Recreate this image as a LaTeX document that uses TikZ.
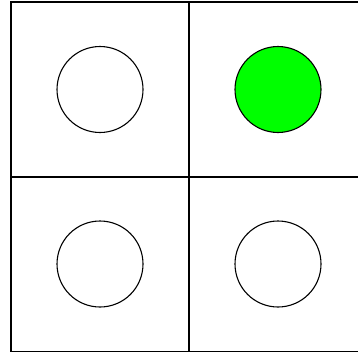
\documentclass[tikz,border=0pt]{standalone}
\usepackage{xcolor}
\usepackage{tikz}
\usetikzlibrary{positioning}
\definecolor{LampGreen}{HTML}{00FF00}

\begin{document}
\begin{tikzpicture}[
  x=1pt, y=-1pt,
  cell/.style={draw=black, line width=1.4pt, minimum width=178pt, minimum height=175pt, inner sep=0pt},
  lamp/.style={circle, draw=black, line width=1.1pt, minimum size=86pt, inner sep=0pt, fill=white},
  lampon/.style={lamp, fill=LampGreen}
]
\clip (0,0) rectangle (358,356);
\fill[white] (0,0) rectangle (358,356);
\node[cell] (topleft) at (100,89.5) {};
\node[cell] (topright) at (278,89.5) {};
\node[cell] (botleft) at (100,264) {};
\node[cell] (botright) at (278,264) {};

\node[lamp] (lampa) at (topleft.center) {};
\node[lampon] (lampb) at (topright.center) {};
\node[lamp] (lampc) at (botleft.center) {};
\node[lamp] (lampd) at (botright.center) {};
\end{tikzpicture}
\end{document}
